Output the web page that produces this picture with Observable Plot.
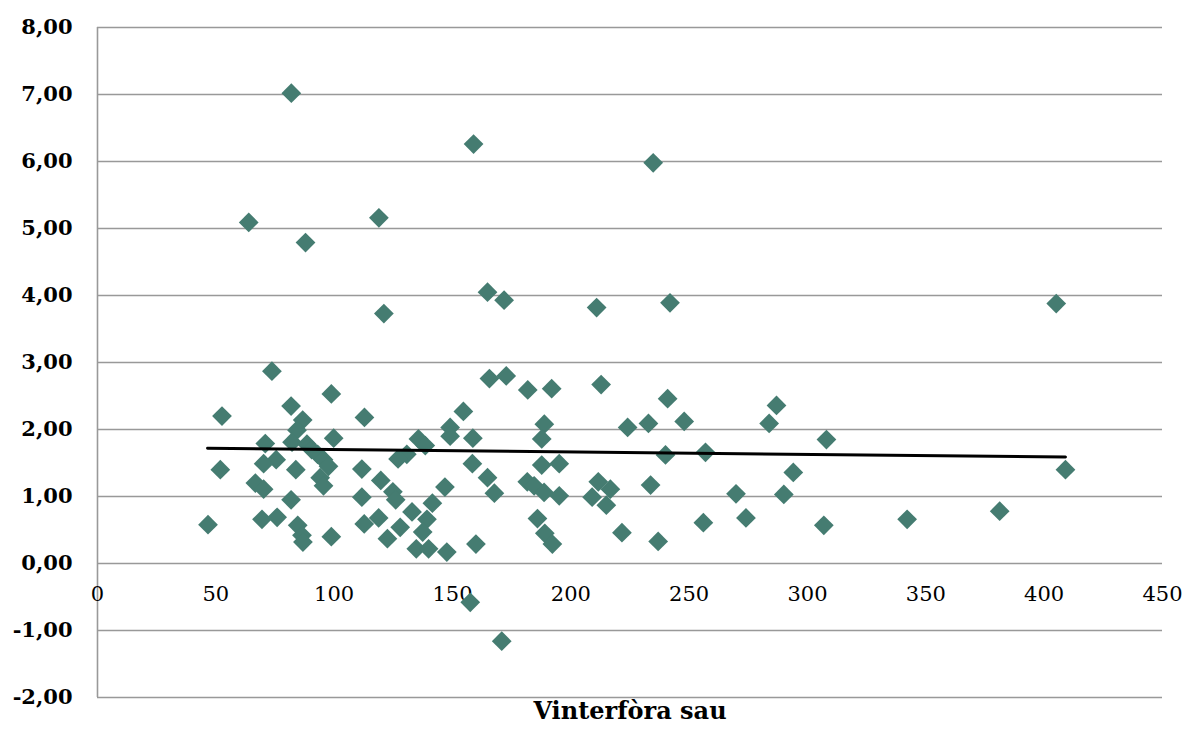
<!DOCTYPE html>
<html>
<head>
<meta charset="utf-8">
<script src="https://cdn.jsdelivr.net/npm/d3@7"></script>
<script src="https://cdn.jsdelivr.net/npm/@observablehq/plot@0.6"></script>
<style>
  html, body { margin: 0; padding: 0; background: #ffffff; }
  #chart { width: 1190px; height: 731px; }
</style>
</head>
<body>
<div id="chart"></div>
<script>
// Vinterfòra sau (x) vs value (y)
const xValues = [
  81.9, 158.9, 234.8, 63.9, 118.9, 87.9, 164.8, 171.8, 210.9, 241.9,
  121.0, 405.1, 73.7, 52.6, 98.8, 81.8, 86.7, 112.8, 165.6, 172.7,
  154.6, 84.3, 149.0, 99.8, 70.9, 82.2, 135.6, 149.0, 158.6, 88.5,
  90.5, 93.0, 95.5, 97.6, 138.5, 130.7, 127.0, 75.5, 70.2, 51.9,
  83.8, 111.7, 158.4, 164.8, 119.7, 66.7, 70.2, 94.1, 95.5, 124.8,
  146.8, 167.7, 81.8, 111.7, 126.0, 141.5, 132.9, 69.5, 75.9, 46.7,
  118.8, 112.7, 127.9, 84.6, 86.4, 86.8, 98.8, 122.5, 139.2, 137.4,
  134.7, 139.9, 147.6, 159.9, 157.5, 170.8, 181.8, 191.9, 212.8, 240.9,
  247.9, 224.0, 232.8, 188.8, 187.7, 240.0, 256.9, 187.7, 195.1, 181.6,
  184.5, 188.7, 195.1, 211.6, 216.7, 209.0, 215.0, 233.7, 269.8, 185.9,
  189.0, 192.2, 221.6, 236.9, 256.0, 286.9, 283.8, 308.0, 294.0, 409.0,
  290.0, 274.0, 306.9, 342.1, 381.2
];
const yValues = [
  7.02, 6.26, 5.98, 5.09, 5.16, 4.79, 4.05, 3.93, 3.82, 3.89,
  3.73, 3.88, 2.87, 2.20, 2.53, 2.35, 2.14, 2.18, 2.76, 2.80,
  2.27, 1.99, 2.03, 1.87, 1.79, 1.81, 1.86, 1.90, 1.87, 1.78,
  1.70, 1.63, 1.55, 1.45, 1.76, 1.63, 1.56, 1.55, 1.49, 1.40,
  1.40, 1.41, 1.49, 1.28, 1.24, 1.20, 1.11, 1.28, 1.16, 1.07,
  1.14, 1.05, 0.95, 0.99, 0.95, 0.90, 0.77, 0.66, 0.69, 0.58,
  0.68, 0.59, 0.54, 0.57, 0.42, 0.32, 0.40, 0.37, 0.66, 0.47,
  0.22, 0.22, 0.17, 0.29, -0.58, -1.16, 2.59, 2.61, 2.67, 2.46,
  2.12, 2.03, 2.09, 2.08, 1.86, 1.62, 1.66, 1.47, 1.49, 1.22,
  1.16, 1.06, 1.01, 1.22, 1.11, 0.99, 0.87, 1.17, 1.04, 0.67,
  0.45, 0.29, 0.46, 0.33, 0.61, 2.36, 2.09, 1.85, 1.36, 1.40,
  1.03, 0.68, 0.57, 0.66, 0.78
];
// Trend line end points
const trendX = [46.5, 409.0];
const trendY = [1.72, 1.59];

const xTicks = [0, 50, 100, 150, 200, 250, 300, 350, 400, 450];
const yTicks = [-2, -1, 0, 1, 2, 3, 4, 5, 6, 7, 8];
const xTitle = "Vinterfòra sau";

const points = xValues.map((x, i) => ({x, y: yValues[i]}));
const trend = trendX.map((x, i) => ({x, y: trendY[i]}));
const fmt = d => d.toFixed(2).replace(".", ",");

const chart = Plot.plot({
  width: 1190,
  height: 731,
  marginLeft: 97,
  marginRight: 28,
  marginTop: 27,
  marginBottom: 34,
  style: {fontFamily: "'DejaVu Serif', serif", fontSize: "20px", color: "#000", background: "#fff"},
  x: {domain: [0, 450], axis: null},
  y: {domain: [-2, 8], axis: null},
  marks: [
    Plot.ruleY(yTicks, {stroke: "#999999", strokeWidth: 1.6}),
    Plot.ruleX([0], {stroke: "#999999", strokeWidth: 1.6}),
    Plot.axisY({
      ticks: yTicks,
      tickFormat: fmt,
      tickSize: 0,
      tickPadding: 25,
      fontSize: 21,
      fontWeight: "bold",
      fill: "#000",
      label: null
    }),
    Plot.text(xTicks, {
      x: d => d,
      y: 0,
      text: d => String(d),
      dy: 31,
      fontSize: 21,
      fill: "#000"
    }),
    Plot.dot(points, {
      x: "x",
      y: "y",
      symbol: "diamond2",
      r: 8.9,
      fill: "#457c71",
      stroke: "none"
    }),
    Plot.line(trend, {x: "x", y: "y", stroke: "#000", strokeWidth: 3}),
    Plot.text([xTitle], {
      frameAnchor: "bottom",
      text: d => d,
      dy: 21,
      fontSize: 24,
      fontWeight: "bold",
      fill: "#000"
    })
  ]
});
document.getElementById("chart").appendChild(chart);
</script>
</body>
</html>
